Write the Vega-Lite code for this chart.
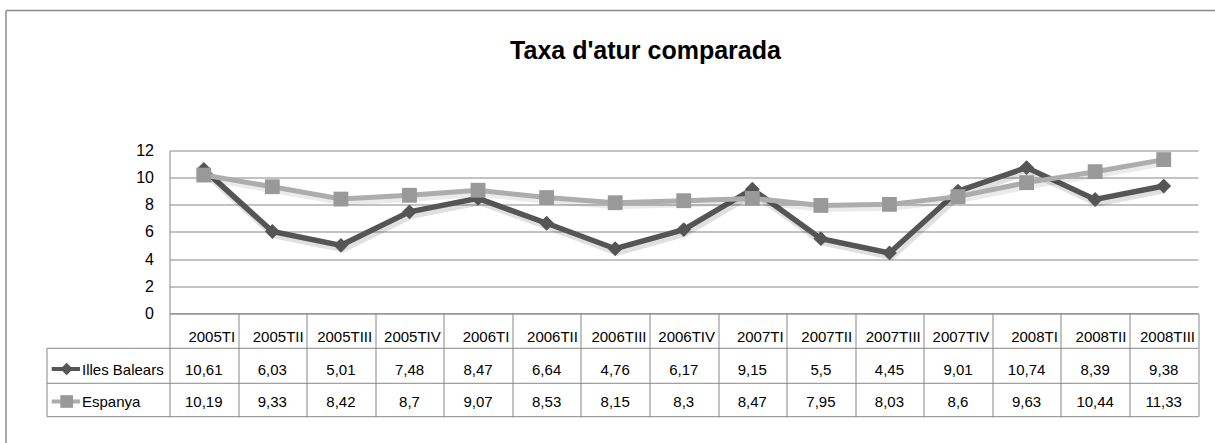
{
  "$schema": "https://vega.github.io/schema/vega-lite/v6.json",
  "width": 1028.5,
  "height": 162.8,
  "autosize": {"type": "none"},
  "padding": {"left": 169.5, "top": 150.5, "right": 17, "bottom": 129.7},
  "background": "white",
  "config": {
    "view": {"stroke": null},
    "font": "Liberation Sans",
    "locale": {"number": {"decimal": ",", "thousands": ".", "grouping": [3], "currency": ["", " €"]}}
  },
  "data": {"values": [
    {"q": "2005TI", "t": 0, "s": "Illes Balears", "v": 10.61},
    {"q": "2005TII", "t": 1, "s": "Illes Balears", "v": 6.03},
    {"q": "2005TIII", "t": 2, "s": "Illes Balears", "v": 5.01},
    {"q": "2005TIV", "t": 3, "s": "Illes Balears", "v": 7.48},
    {"q": "2006TI", "t": 4, "s": "Illes Balears", "v": 8.47},
    {"q": "2006TII", "t": 5, "s": "Illes Balears", "v": 6.64},
    {"q": "2006TIII", "t": 6, "s": "Illes Balears", "v": 4.76},
    {"q": "2006TIV", "t": 7, "s": "Illes Balears", "v": 6.17},
    {"q": "2007TI", "t": 8, "s": "Illes Balears", "v": 9.15},
    {"q": "2007TII", "t": 9, "s": "Illes Balears", "v": 5.5},
    {"q": "2007TIII", "t": 10, "s": "Illes Balears", "v": 4.45},
    {"q": "2007TIV", "t": 11, "s": "Illes Balears", "v": 9.01},
    {"q": "2008TI", "t": 12, "s": "Illes Balears", "v": 10.74},
    {"q": "2008TII", "t": 13, "s": "Illes Balears", "v": 8.39},
    {"q": "2008TIII", "t": 14, "s": "Illes Balears", "v": 9.38},
    {"q": "2005TI", "t": 0, "s": "Espanya", "v": 10.19},
    {"q": "2005TII", "t": 1, "s": "Espanya", "v": 9.33},
    {"q": "2005TIII", "t": 2, "s": "Espanya", "v": 8.42},
    {"q": "2005TIV", "t": 3, "s": "Espanya", "v": 8.7},
    {"q": "2006TI", "t": 4, "s": "Espanya", "v": 9.07},
    {"q": "2006TII", "t": 5, "s": "Espanya", "v": 8.53},
    {"q": "2006TIII", "t": 6, "s": "Espanya", "v": 8.15},
    {"q": "2006TIV", "t": 7, "s": "Espanya", "v": 8.3},
    {"q": "2007TI", "t": 8, "s": "Espanya", "v": 8.47},
    {"q": "2007TII", "t": 9, "s": "Espanya", "v": 7.95},
    {"q": "2007TIII", "t": 10, "s": "Espanya", "v": 8.03},
    {"q": "2007TIV", "t": 11, "s": "Espanya", "v": 8.6},
    {"q": "2008TI", "t": 12, "s": "Espanya", "v": 9.63},
    {"q": "2008TII", "t": 13, "s": "Espanya", "v": 10.44},
    {"q": "2008TIII", "t": 14, "s": "Espanya", "v": 11.33}
  ]},
  "layer": [
    {
      "transform": [{"filter": "datum.s === 'Illes Balears'"}],
      "mark": {"type": "line", "color": "#000000", "opacity": 0.12, "strokeWidth": 8, "xOffset": 2, "yOffset": 3},
      "encoding": {
        "x": {"field": "t", "type": "quantitative",
          "scale": {"domain": [-0.5, 14.5], "nice": false, "zero": false},
          "axis": {"values": [-0.5, 0.5, 1.5, 2.5, 3.5, 4.5, 5.5, 6.5, 7.5, 8.5, 9.5, 10.5, 11.5, 12.5, 13.5, 14.5],
            "labels": false, "ticks": true, "tickSize": 103.4, "tickColor": "#878787", "tickWidth": 1,
            "domain": true, "domainColor": "#878787", "domainWidth": 1, "grid": false, "title": null}},
        "y": {"field": "v", "type": "quantitative",
          "scale": {"domain": [0, 12], "nice": false, "zero": false},
          "axis": {"values": [0, 2, 4, 6, 8, 10, 12], "tickCount": 7, "labelOverlap": false, "grid": true, "gridColor": "#878787", "gridWidth": 1,
            "domain": true, "domainColor": "#878787", "domainWidth": 1, "ticks": false, "tickSize": 0,
            "labelPadding": 16, "labelFontSize": 16, "labelFont": "Liberation Sans", "labelColor": "#000000", "title": null}}
      }
    },
    {
      "transform": [{"filter": "datum.s === 'Illes Balears'"}],
      "mark": {"type": "line", "color": "#555555", "strokeWidth": 5.5},
      "encoding": {
        "x": {"field": "t", "type": "quantitative", "scale": {"domain": [-0.5, 14.5], "nice": false, "zero": false}},
        "y": {"field": "v", "type": "quantitative", "scale": {"domain": [0, 12], "nice": false, "zero": false}}
      }
    },
    {
      "transform": [{"filter": "datum.s === 'Illes Balears'"}],
      "mark": {"type": "point", "shape": "diamond", "filled": true, "size": 220, "color": "#555555", "opacity": 1},
      "encoding": {
        "x": {"field": "t", "type": "quantitative", "scale": {"domain": [-0.5, 14.5], "nice": false, "zero": false}},
        "y": {"field": "v", "type": "quantitative", "scale": {"domain": [0, 12], "nice": false, "zero": false}}
      }
    },
    {
      "transform": [{"filter": "datum.s === 'Espanya'"}],
      "mark": {"type": "line", "color": "#000000", "opacity": 0.08, "strokeWidth": 7, "xOffset": 2, "yOffset": 3},
      "encoding": {
        "x": {"field": "t", "type": "quantitative", "scale": {"domain": [-0.5, 14.5], "nice": false, "zero": false}},
        "y": {"field": "v", "type": "quantitative", "scale": {"domain": [0, 12], "nice": false, "zero": false}}
      }
    },
    {
      "transform": [{"filter": "datum.s === 'Espanya'"}],
      "mark": {"type": "line", "color": "#adadad", "strokeWidth": 5},
      "encoding": {
        "x": {"field": "t", "type": "quantitative", "scale": {"domain": [-0.5, 14.5], "nice": false, "zero": false}},
        "y": {"field": "v", "type": "quantitative", "scale": {"domain": [0, 12], "nice": false, "zero": false}}
      }
    },
    {
      "transform": [{"filter": "datum.s === 'Espanya'"}],
      "mark": {"type": "point", "shape": "square", "filled": true, "size": 220, "color": "#999999", "opacity": 1},
      "encoding": {
        "x": {"field": "t", "type": "quantitative", "scale": {"domain": [-0.5, 14.5], "nice": false, "zero": false}},
        "y": {"field": "v", "type": "quantitative", "scale": {"domain": [0, 12], "nice": false, "zero": false}}
      }
    },
    {
      "data": {"values": [{}]},
      "mark": {"type": "rule", "color": "#8c8c8c", "strokeWidth": 1.5},
      "encoding": {
        "x": {"datum": -2.8845, "type": "quantitative", "scale": {"domain": [-0.5, 14.5], "nice": false, "zero": false}},
        "y": {"datum": 22.32, "type": "quantitative", "scale": {"domain": [0, 12], "nice": false, "zero": false}},
        "y2": {"datum": -10}
      }
    },
    {
      "data": {"values": [{}]},
      "mark": {"type": "rule", "color": "#8c8c8c", "strokeWidth": 1.5},
      "encoding": {
        "x": {"datum": -2.8845, "type": "quantitative", "scale": {"domain": [-0.5, 14.5], "nice": false, "zero": false}},
        "x2": {"datum": 15.5},
        "y": {"datum": 22.32, "type": "quantitative", "scale": {"domain": [0, 12], "nice": false, "zero": false}}
      }
    },
    {
      "data": {"values": [{}]},
      "mark": {"type": "rule", "color": "#878787", "strokeWidth": 1},
      "encoding": {
        "x": {"datum": -2.2866, "type": "quantitative", "scale": {"domain": [-0.5, 14.5], "nice": false, "zero": false}},
        "x2": {"datum": 14.5},
        "y": {"datum": -2.58, "type": "quantitative", "scale": {"domain": [0, 12], "nice": false, "zero": false}}
      }
    },
    {
      "data": {"values": [{}]},
      "mark": {"type": "rule", "color": "#878787", "strokeWidth": 1},
      "encoding": {
        "x": {"datum": -2.2866, "type": "quantitative", "scale": {"domain": [-0.5, 14.5], "nice": false, "zero": false}},
        "x2": {"datum": 14.5},
        "y": {"datum": -5.16, "type": "quantitative", "scale": {"domain": [0, 12], "nice": false, "zero": false}}
      }
    },
    {
      "data": {"values": [{}]},
      "mark": {"type": "rule", "color": "#878787", "strokeWidth": 1},
      "encoding": {
        "x": {"datum": -2.2866, "type": "quantitative", "scale": {"domain": [-0.5, 14.5], "nice": false, "zero": false}},
        "x2": {"datum": 14.5},
        "y": {"datum": -7.621, "type": "quantitative", "scale": {"domain": [0, 12], "nice": false, "zero": false}}
      }
    },
    {
      "data": {"values": [{}]},
      "mark": {"type": "rule", "color": "#878787", "strokeWidth": 1},
      "encoding": {
        "x": {"datum": -2.2866, "type": "quantitative", "scale": {"domain": [-0.5, 14.5], "nice": false, "zero": false}},
        "y": {"datum": -2.58, "type": "quantitative", "scale": {"domain": [0, 12], "nice": false, "zero": false}},
        "y2": {"datum": -7.621}
      }
    },
    {
      "transform": [{"filter": "datum.s === 'Illes Balears'"}],
      "mark": {"type": "text", "align": "right", "baseline": "middle", "dx": 31.3, "fontSize": 15, "font": "Liberation Sans", "color": "#000000"},
      "encoding": {
        "x": {"field": "t", "type": "quantitative", "scale": {"domain": [-0.5, 14.5], "nice": false, "zero": false}},
        "y": {"datum": -1.77, "type": "quantitative", "scale": {"domain": [0, 12], "nice": false, "zero": false}},
        "text": {"field": "q"}
      }
    },
    {
      "transform": [{"filter": "datum.s === 'Illes Balears'"}],
      "mark": {"type": "text", "align": "center", "baseline": "middle", "fontSize": 15, "font": "Liberation Sans", "color": "#000000"},
      "encoding": {
        "x": {"field": "t", "type": "quantitative", "scale": {"domain": [-0.5, 14.5], "nice": false, "zero": false}},
        "y": {"datum": -4.17, "type": "quantitative", "scale": {"domain": [0, 12], "nice": false, "zero": false}},
        "text": {"field": "v", "type": "quantitative", "format": "~g"}
      }
    },
    {
      "transform": [{"filter": "datum.s === 'Espanya'"}],
      "mark": {"type": "text", "align": "center", "baseline": "middle", "fontSize": 15, "font": "Liberation Sans", "color": "#000000"},
      "encoding": {
        "x": {"field": "t", "type": "quantitative", "scale": {"domain": [-0.5, 14.5], "nice": false, "zero": false}},
        "y": {"datum": -6.56, "type": "quantitative", "scale": {"domain": [0, 12], "nice": false, "zero": false}},
        "text": {"field": "v", "type": "quantitative", "format": "~g"}
      }
    },
    {
      "data": {"values": [{}]},
      "mark": {"type": "rule", "color": "#555555", "strokeWidth": 4},
      "encoding": {
        "x": {"datum": -2.218, "type": "quantitative", "scale": {"domain": [-0.5, 14.5], "nice": false, "zero": false}},
        "x2": {"datum": -1.806},
        "y": {"datum": -4.106, "type": "quantitative", "scale": {"domain": [0, 12], "nice": false, "zero": false}}
      }
    },
    {
      "data": {"values": [{}]},
      "mark": {"type": "point", "shape": "diamond", "filled": true, "size": 160, "color": "#555555", "opacity": 1},
      "encoding": {
        "x": {"datum": -2.0, "type": "quantitative", "scale": {"domain": [-0.5, 14.5], "nice": false, "zero": false}},
        "y": {"datum": -4.106, "type": "quantitative", "scale": {"domain": [0, 12], "nice": false, "zero": false}}
      }
    },
    {
      "data": {"values": [{}]},
      "mark": {"type": "rule", "color": "#adadad", "strokeWidth": 4},
      "encoding": {
        "x": {"datum": -2.218, "type": "quantitative", "scale": {"domain": [-0.5, 14.5], "nice": false, "zero": false}},
        "x2": {"datum": -1.806},
        "y": {"datum": -6.501, "type": "quantitative", "scale": {"domain": [0, 12], "nice": false, "zero": false}}
      }
    },
    {
      "data": {"values": [{}]},
      "mark": {"type": "point", "shape": "square", "filled": true, "size": 160, "color": "#999999", "opacity": 1},
      "encoding": {
        "x": {"datum": -2.0, "type": "quantitative", "scale": {"domain": [-0.5, 14.5], "nice": false, "zero": false}},
        "y": {"datum": -6.501, "type": "quantitative", "scale": {"domain": [0, 12], "nice": false, "zero": false}}
      }
    },
    {
      "data": {"values": [{}]},
      "mark": {"type": "text", "align": "left", "baseline": "middle", "fontSize": 15, "font": "Liberation Sans", "color": "#000000", "text": "Illes Balears"},
      "encoding": {
        "x": {"datum": -1.776, "type": "quantitative", "scale": {"domain": [-0.5, 14.5], "nice": false, "zero": false}},
        "y": {"datum": -4.17, "type": "quantitative", "scale": {"domain": [0, 12], "nice": false, "zero": false}}
      }
    },
    {
      "data": {"values": [{}]},
      "mark": {"type": "text", "align": "left", "baseline": "middle", "fontSize": 15, "font": "Liberation Sans", "color": "#000000", "text": "Espanya"},
      "encoding": {
        "x": {"datum": -1.776, "type": "quantitative", "scale": {"domain": [-0.5, 14.5], "nice": false, "zero": false}},
        "y": {"datum": -6.56, "type": "quantitative", "scale": {"domain": [0, 12], "nice": false, "zero": false}}
      }
    },
    {
      "data": {"values": [{}]},
      "mark": {"type": "text", "align": "center", "baseline": "alphabetic", "fontSize": 25, "fontWeight": "bold", "font": "Liberation Sans", "color": "#000000", "text": "Taxa d'atur comparada"},
      "encoding": {
        "x": {"datum": 6.442, "type": "quantitative", "scale": {"domain": [-0.5, 14.5], "nice": false, "zero": false}},
        "y": {"datum": 18.72, "type": "quantitative", "scale": {"domain": [0, 12], "nice": false, "zero": false}}
      }
    }
  ]
}
